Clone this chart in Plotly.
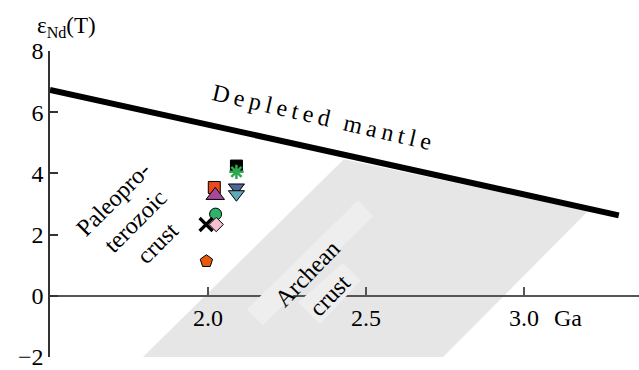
import plotly.graph_objects as go

# Sample data: model age (Ga) vs epsilon Nd(T)
ages = [2.09, 2.09, 2.09, 2.09, 2.02, 2.023, 2.024, 1.994, 2.026, 1.995]
eps_nd = [4.24, 4.05, 3.54, 3.32, 3.54, 3.28, 2.67, 2.33, 2.33, 1.13]
symbols = ["square", "asterisk-open", "triangle-down", "triangle-down", "square",
           "triangle-up", "circle", "x-thin-open", "diamond", "pentagon"]
fills = ["#000000", "#2ea84f", "#4f6795", "#5eaab8", "#e8491d",
         "#a8489a", "#2fb36b", "#000000", "#f7c0d0", "#e85b0c"]
sizes = [12, 12, 14, 14, 12, 16, 12, 13, 11, 13]

# Depleted mantle evolution line
mantle_age = [1.5, 3.3]
mantle_eps = [6.73, 2.63]

# Archean crust field and the label backing strips
archean_x = [1.794, 2.744, 3.203, 2.430]
archean_y = [-2.0, -2.0, 2.77, 4.46]
strip1_x = [2.123, 2.475, 2.522, 2.174]
strip1_y = [-0.444, 3.122, 2.603, -0.963]
strip2_x = [2.285, 2.427, 2.484, 2.354]
strip2_y = [-0.217, 1.079, 0.496, -0.930]

x_ticks = [2.0, 2.5, 3.0]
x_tick_text = ["2.0", "2.5", "3.0"]
y_ticks = [-2, 0, 2, 4, 6, 8]

FONT = "Liberation Serif, Times New Roman, serif"


def poly(xs, ys):
    return "M " + " L ".join(f"{a},{b}" for a, b in zip(xs, ys)) + " Z"


fig = go.Figure()

fig.add_trace(go.Scatter(
    x=mantle_age, y=mantle_eps, mode="lines",
    line=dict(color="black", width=6), hoverinfo="skip", showlegend=False))

for a, e, s, c, z in zip(ages, eps_nd, symbols, fills, sizes):
    if s in ("asterisk-open", "x-thin-open"):
        marker = dict(symbol=s, size=z, color=c,
                      line=dict(color=c, width=2.5 if s.startswith("a") else 3.2))
    else:
        marker = dict(symbol=s, size=z, color=c, line=dict(color="black", width=1))
    fig.add_trace(go.Scatter(x=[a], y=[e], mode="markers", marker=marker,
                             showlegend=False, cliponaxis=False))

fig.add_shape(type="path", path=poly(archean_x, archean_y),
              fillcolor="#e6e6e6", line=dict(width=0), layer="below")
fig.add_shape(type="path", path=poly(strip1_x, strip1_y),
              fillcolor="#eeeeee", line=dict(width=0), layer="above")
fig.add_shape(type="path", path=poly(strip2_x, strip2_y),
              fillcolor="#eeeeee", line=dict(width=0), layer="above")

ts = "\u2009"
fig.add_annotation(x=2.36, y=5.85, text=ts.join("Depleted") + ts * 3 + ts.join("mantle"),
                   textangle=13, showarrow=False,
                   font=dict(family=FONT, size=24, color="black"))
fig.add_annotation(x=1.77, y=2.43, text="Paleopro-<br>terozoic<br>crust",
                   textangle=-45, showarrow=False, align="center",
                   font=dict(family=FONT, size=24, color="black"))
fig.add_annotation(x=2.35, y=0.36, text="Archean<br>crust",
                   textangle=-46, showarrow=False, align="center",
                   font=dict(family=FONT, size=24, color="black"))
fig.add_annotation(x=3.14, y=-0.72, text="Ga", showarrow=False,
                   font=dict(family=FONT, size=24, color="black"))
fig.add_annotation(xref="paper", yref="paper", x=-0.025, y=1.0, yshift=8,
                   xanchor="left", yanchor="bottom",
                   text="ε<sub>Nd</sub>(T)", showarrow=False,
                   font=dict(family=FONT, size=23, color="black"))

fig.update_layout(
    width=639, height=370,
    margin=dict(l=50, r=0, t=51, b=10),
    paper_bgcolor="white", plot_bgcolor="white",
    font=dict(family=FONT, size=23, color="black"),
    xaxis=dict(range=[1.5, 3.364], anchor="free", position=0.2,
               showline=True, linecolor="#555555", linewidth=2,
               ticks="inside", ticklen=8, tickwidth=1.5, tickcolor="#555555",
               tickvals=x_ticks, ticktext=x_tick_text,
               showgrid=False, zeroline=False, ticklabeloverflow="allow",
               tickfont=dict(family=FONT, size=24)),
    yaxis=dict(range=[-2, 8], showline=True, linecolor="#333333", linewidth=1.5,
               ticks="inside", ticklen=8, tickwidth=1.5, tickcolor="#333333",
               tickvals=y_ticks, showgrid=False, zeroline=False,
               ticklabeloverflow="allow",
               tickfont=dict(family=FONT, size=24)),
)

fig.write_html("out.html")
